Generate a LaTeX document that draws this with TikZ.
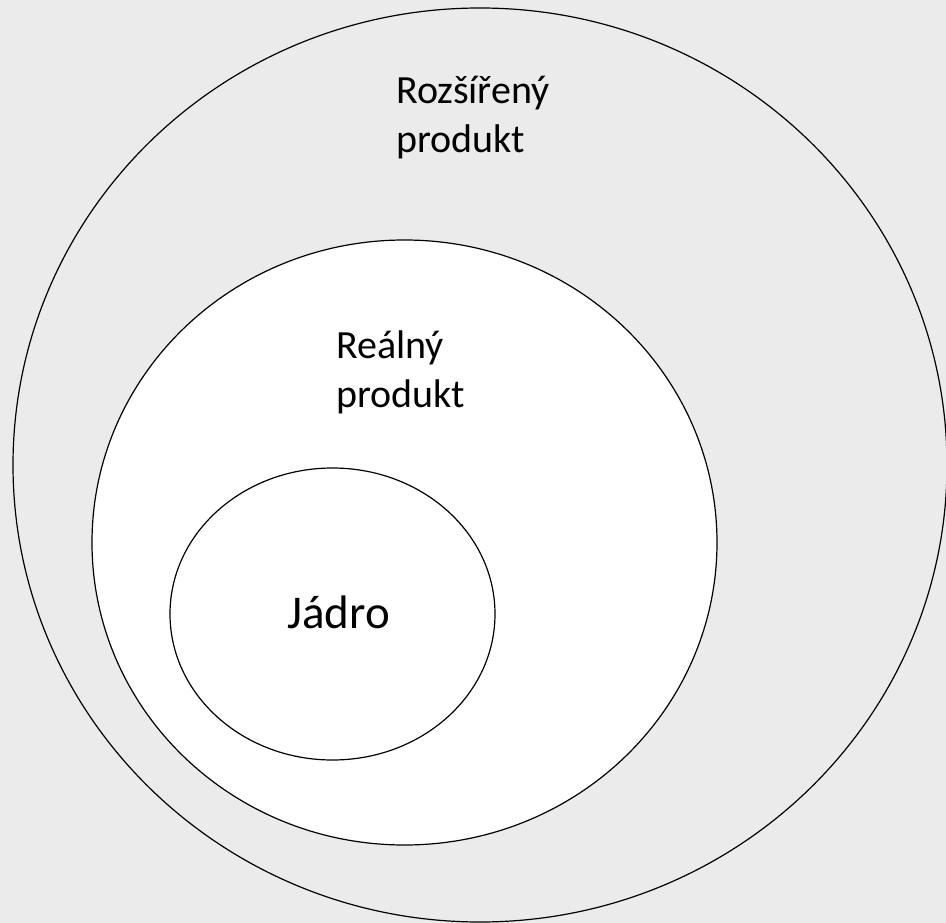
\documentclass[tikz,border=0pt]{standalone}
\usepackage{fontspec}
\setmainfont{Carlito}
\usetikzlibrary{positioning}
\definecolor{backgrey}{RGB}{235,235,235}
\tikzset{ring/.style={draw=black,line width=1.2pt},
         ringlabel/.style={inner sep=0pt,align=left,font=\fontsize{40}{49}\selectfont}}

\begin{document}
\begin{tikzpicture}[x=1pt,y=-1pt]
		% border / background
		\fill[backgrey] (0,0) rectangle (946,923);
		\useasboundingbox (0,0) rectangle (946,923);
		% outer ring: extended product
		\draw[ring] (480,465) ellipse (467 and 457);
		% middle ring: real product
		\draw[ring,fill=white] (404.5,542.5) ellipse (312.5 and 302.5);
		% inner ring: core
		\draw[ring,fill=white] (332.5,614) ellipse (162.5 and 146);
		% labels (base = last line)
		\node[ringlabel,anchor=base west] (rozsireny) at (396,153) {Rozšířený\\produkt};
		\node[ringlabel,anchor=base west] (realny) at (336,407) {Reálný\\produkt};
		\node[inner sep=0pt,font=\fontsize{47}{56}\selectfont,anchor=base west] (jadro) at (287,628) {Jádro};
\end{tikzpicture}
\end{document}
